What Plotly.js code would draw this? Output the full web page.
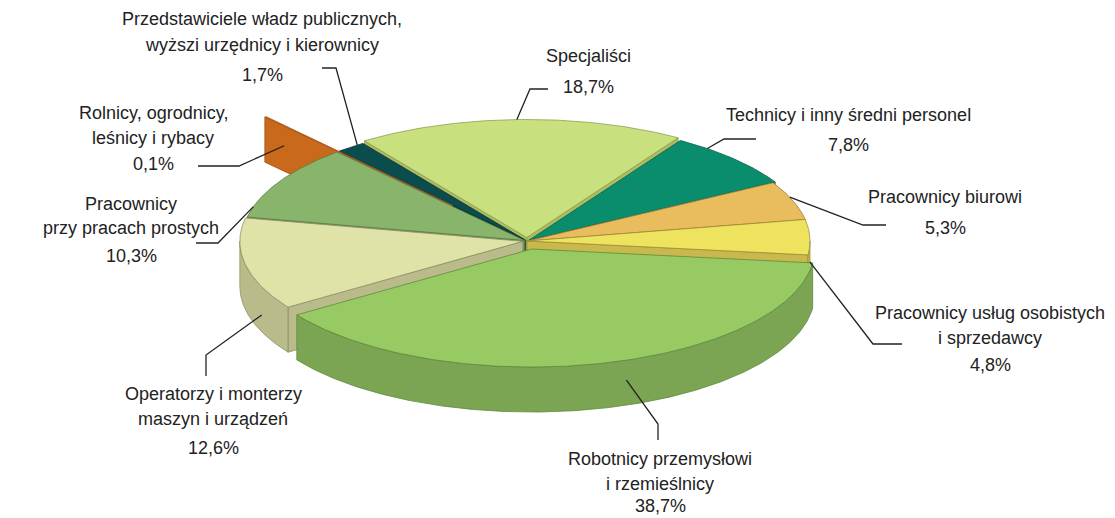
<!DOCTYPE html>
<html>
<head>
<meta charset="utf-8">
<script src="https://cdn.plot.ly/plotly-3.0.1.min.js"></script>
<style>html,body{margin:0;padding:0;background:#fff;}#chart{width:1115px;height:518px;}</style>
</head>
<body>
<div id="chart"></div>
<script>
// ---------- DATA ----------
const categories = [
  "Specjaliści",
  "Technicy i inny średni personel",
  "Pracownicy biurowi",
  "Pracownicy usług osobistych i sprzedawcy",
  "Robotnicy przemysłowi i rzemieślnicy",
  "Operatorzy i monterzy maszyn i urządzeń",
  "Pracownicy przy pracach prostych",
  "Rolnicy, ogrodnicy, leśnicy i rybacy",
  "Przedstawiciele władz publicznych, wyższi urzędnicy i kierownicy"
];
const shares = [18.7, 7.8, 5.3, 4.8, 38.7, 12.6, 10.3, 0.1, 1.7];
const labelLines = [
  ["Specjaliści"],
  ["Technicy i inny średni personel"],
  ["Pracownicy biurowi"],
  ["Pracownicy usług osobistych", "i sprzedawcy"],
  ["Robotnicy przemysłowi", "i rzemieślnicy"],
  ["Operatorzy i monterzy", "maszyn i urządzeń"],
  ["Pracownicy", "przy pracach prostych"],
  ["Rolnicy, ogrodnicy,", "leśnicy i rybacy"],
  ["Przedstawiciele władz publicznych,", "wyższi urzędnicy i kierownicy"]
];

// ---------- STYLE / LAYOUT ----------
const topColors  = ["#c8e07e","#0a8d6c","#e9bd5d","#ede35f","#98ca64","#dfe3a8","#88b56b","#c8691c","#0b4c4e"];
const sideColors = ["#a9bc62","#077055","#c79c45","#c8b84d","#7ba552","#b9bc8a","#6f9757","#c8691c","#083a3b"];
const edgeColors = ["#8f9f4e","#06604a","#9c7a33","#9d8f37","#5f8a3c","#8f9166","#5a7d45","#a8561a","#062e2f"];
const pulls = [0.03, 0.01, 0.0, 0.0, 0.07, 0.015, 0.01, 0.4, 0.01];
const geo = {cx: 527, cy: 241, rx: 283, ry: 118, depth: 45, start: 125};
const labelPos = [
  {x: 588, ys: [56], py: 87},
  {x: 848, ys: [115], py: 145},
  {x: 945, ys: [197], py: 228},
  {x: 990, ys: [313, 338], py: 365},
  {x: 660, ys: [459, 484], py: 506},
  {x: 213, ys: [394, 419], py: 448},
  {x: 131, ys: [204, 228], py: 256},
  {x: 153, ys: [113, 138], py: 164},
  {x: 262, ys: [19, 45], py: 75}
];
const leaders = [
  {f: 0.49, r: 1, drop: 0, pts: [[530, 89], [548, 89]]},
  {f: 0.24, r: 1, drop: 0, pts: [[724, 139], [756, 139]]},
  {f: 0.41, r: 1, drop: 0, pts: [[863, 225], [886, 225]]},
  {f: 0.72, r: 1, drop: 17, pts: [[873, 344], [902, 344]]},
  {f: 0.457, r: 1, drop: 20, pts: [[658, 424], [658, 440]]},
  {f: 0.247, r: 1, drop: 28, pts: [[206, 355], [206, 376]]},
  {f: 0.14, r: 1, drop: 0, pts: [[218, 243], [196, 243]]},
  {f: 0.5, r: 0.9, drop: 20, pts: [[239, 166], [198, 166]]},
  {f: 0.77, r: 1, drop: 0, pts: [[336, 68], [322, 68]]}
];
const FONT = {family: "Liberation Sans, Arial, sans-serif", size: 18, color: "#222222"};

// ---------- GEOMETRY ----------
const D2R = Math.PI / 180;
const total = shares.reduce((a, b) => a + b, 0);
let cum = 0;
const slices = shares.map((v, i) => {
  const a0 = geo.start - cum / total * 360;
  cum += v;
  const a1 = geo.start - cum / total * 360;
  const mid = (a0 + a1) / 2;
  const ox = geo.rx * pulls[i] * Math.cos(mid * D2R);
  const oy = -geo.ry * pulls[i] * Math.sin(mid * D2R);
  return {i, a0, a1, mid, ox, oy};
});
function pt(s, r, a, drop) {
  return [geo.cx + s.ox + geo.rx * r * Math.cos(a * D2R),
          geo.cy + s.oy - geo.ry * r * Math.sin(a * D2R) + drop];
}
function arc(s, from, to, drop) {
  const out = [];
  const n = Math.max(2, Math.ceil(Math.abs(from - to) / 0.5));
  for (let k = 0; k <= n; k++) out.push(pt(s, 1, from + (to - from) * k / n, drop));
  return out;
}
const traces = [];
function poly(points, fill, edge) {
  const xs = points.map(p => p[0]), ys = points.map(p => p[1]);
  xs.push(xs[0]); ys.push(ys[0]);
  traces.push({type: "scatter", mode: "lines", x: xs, y: ys, fill: "toself",
    fillcolor: fill, line: {color: edge, width: 0.8}, hoverinfo: "skip"});
}

const order = slices.slice().sort((a, b) => Math.sin(b.mid * D2R) - Math.sin(a.mid * D2R));
order.forEach(s => {
  const i = s.i, d = geo.depth;
  const c0 = pt(s, 0, 0, 0), c1 = pt(s, 0, 0, d);
  // radial faces
  if (Math.cos(s.a0 * D2R) < 0) poly([c0, pt(s, 1, s.a0, 0), pt(s, 1, s.a0, d), c1], sideColors[i], edgeColors[i]);
  if (Math.cos(s.a1 * D2R) > 0) poly([c0, pt(s, 1, s.a1, 0), pt(s, 1, s.a1, d), c1], sideColors[i], edgeColors[i]);
  // outer wall (front half only)
  for (let k = -2; k <= 1; k++) {
    const lo = Math.max(s.a1, -180 + 360 * k), hi = Math.min(s.a0, 360 * k);
    if (lo < hi) {
      const topArc = arc(s, hi, lo, 0), botArc = arc(s, lo, hi, d);
      poly(topArc.concat(botArc), sideColors[i], edgeColors[i]);
    }
  }
  // top face
  poly([c0].concat(arc(s, s.a0, s.a1, 0)), topColors[i], edgeColors[i]);
});

// leader lines
slices.forEach(s => {
  const L = leaders[s.i];
  const a = s.a0 + (s.a1 - s.a0) * L.f;
  const p0 = pt(s, L.r, a, L.drop);
  const all = [p0].concat(L.pts);
  traces.push({type: "scatter", mode: "lines", x: all.map(p => p[0]), y: all.map(p => p[1]),
    line: {color: "#222", width: 1.3}, hoverinfo: "skip"});
});

// labels
const annotations = [];
labelLines.forEach((lines, i) => {
  const P = labelPos[i];
  lines.forEach((t, j) => annotations.push({x: P.x, y: P.ys[j], xref: "x", yref: "y", text: t,
    showarrow: false, xanchor: "center", yanchor: "middle", font: FONT}));
  annotations.push({x: P.x, y: P.py, xref: "x", yref: "y",
    text: shares[i].toFixed(1).replace(".", ",") + "%",
    showarrow: false, xanchor: "center", yanchor: "middle", font: FONT});
});

const layout = {
  width: 1115, height: 518,
  margin: {l: 0, r: 0, t: 0, b: 0},
  paper_bgcolor: "#fff", plot_bgcolor: "#fff",
  showlegend: false, hovermode: false,
  xaxis: {range: [0, 1115], visible: false, fixedrange: true},
  yaxis: {range: [518, 0], visible: false, fixedrange: true},
  annotations
};
Plotly.newPlot("chart", traces, layout, {staticPlot: true, displayModeBar: false});
</script>
</body>
</html>
